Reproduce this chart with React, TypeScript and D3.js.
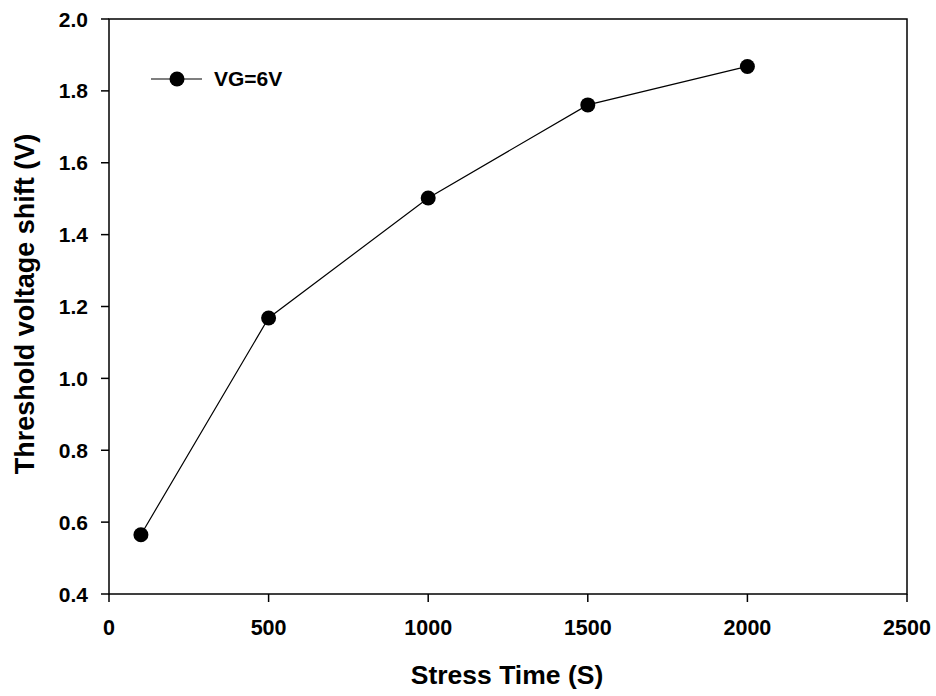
import React from "react";
import * as d3 from "d3";

const stressTime = [100, 500, 1000, 1500, 2000];
const vthShift = [0.565, 1.168, 1.502, 1.761, 1.868];
const xTicks = [0, 500, 1000, 1500, 2000, 2500];
const yTicks = [0.4, 0.6, 0.8, 1.0, 1.2, 1.4, 1.6, 1.8, 2.0];
const seriesName = "VG=6V";

export default function App() {
  const W = 936, H = 696;
  const left = 109, right = 907, top = 19, bottom = 594;
  const x = d3.scaleLinear().domain([0, 2500]).range([left, right]);
  const y = d3.scaleLinear().domain([0.4, 2.0]).range([bottom, top]);
  const line = d3.line<number>().x((_, i) => x(stressTime[i])).y((d) => y(d));
  const font = "'Liberation Sans', Arial, sans-serif";
  return (
    <svg width={W} height={H} style={{ position: "absolute", left: 0, top: 0 }} fontFamily={font}>
      <rect x={left} y={top} width={right - left} height={bottom - top} fill="none" stroke="#000" strokeWidth={1.5} />
      {xTicks.map((t) => (
        <g key={t}>
          <line x1={x(t)} x2={x(t)} y1={bottom} y2={bottom + 8} stroke="#000" strokeWidth={1.5} />
          <text x={x(t)} y={bottom + 41} textAnchor="middle" fontSize={21.5} fontWeight="bold">{t}</text>
        </g>
      ))}
      {yTicks.map((t) => (
        <g key={t}>
          <line x1={left - 8} x2={left} y1={y(t)} y2={y(t)} stroke="#000" strokeWidth={1.5} />
          <text x={left - 21} y={y(t) + 7.5} textAnchor="end" fontSize={21} fontWeight="bold">{t.toFixed(1)}</text>
        </g>
      ))}
      <text x={507} y={684} textAnchor="middle" fontSize={26.5} fontWeight="bold">Stress Time (S)</text>
      <text transform={`translate(34,304) rotate(-90)`} textAnchor="middle" fontSize={27} fontWeight="bold">Threshold voltage shift (V)</text>
      <path d={line(vthShift) || ""} fill="none" stroke="#000" strokeWidth={1.2} />
      {vthShift.map((v, i) => (
        <circle key={i} cx={x(stressTime[i])} cy={y(v)} r={7.5} fill="#000" />
      ))}
      <line x1={151} x2={202} y1={79} y2={79} stroke="#000" strokeWidth={1.2} />
      <circle cx={177} cy={79} r={7.5} fill="#000" />
      <text x={214} y={86} fontSize={21} fontWeight="bold">{seriesName}</text>
    </svg>
  );
}
